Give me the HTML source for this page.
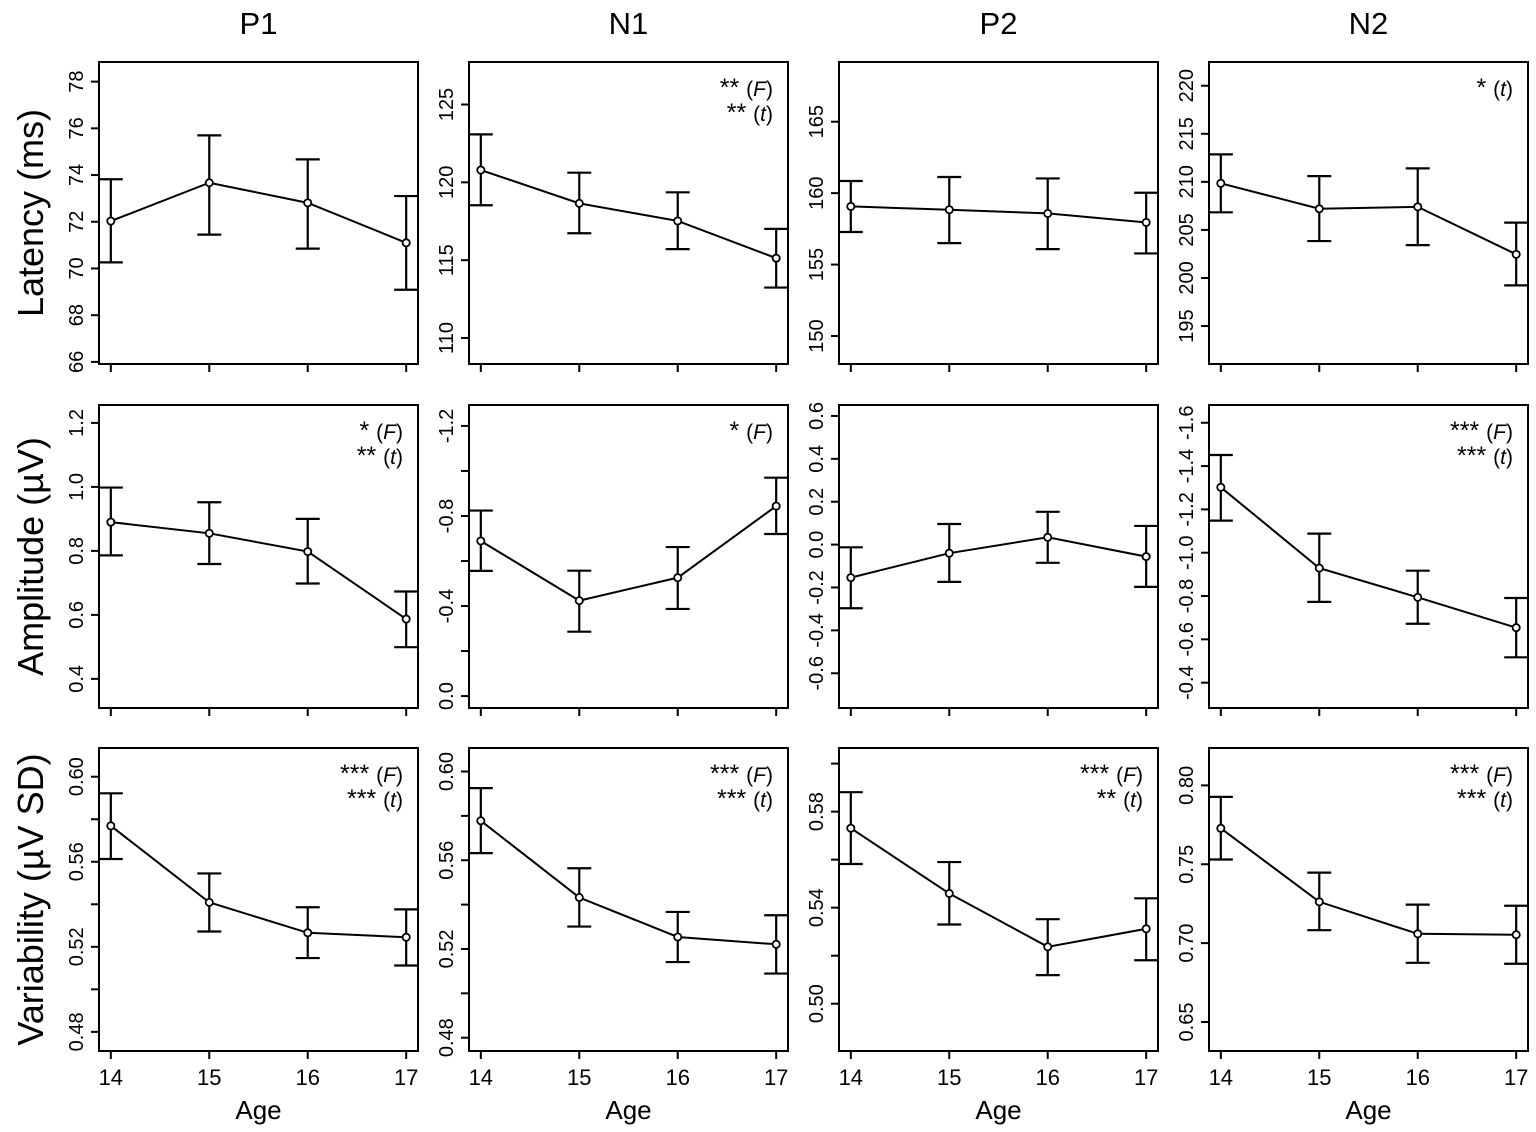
<!DOCTYPE html>
<html><head><meta charset="utf-8">
<style>
html,body{margin:0;padding:0;background:#fff;}
svg{display:block;font-family:"Liberation Sans",Arial,sans-serif;}
</style></head>
<body>
<svg id="chart" width="1536" height="1132" viewBox="0 0 1536 1132" xmlns="http://www.w3.org/2000/svg"></svg>
<script>
// ---- data ----
const ages = [14, 15, 16, 17];
const components = ["P1", "N1", "P2", "N2"];
const measures = ["Latency (ms)", "Amplitude (\u00b5V)", "Variability (\u00b5V SD)"];
const latMean = [[72.03,73.67,72.81,71.10],[120.79,118.65,117.52,115.13],[159.07,158.84,158.58,157.95],[209.85,207.2,207.4,202.46]];
const latLo   = [[70.26,71.45,70.85,69.09],[118.53,116.73,115.71,113.24],[157.28,156.5,156.08,155.78],[206.83,203.84,203.42,199.23]];
const latHi   = [[73.82,75.7,74.67,73.1],[123.08,120.62,119.36,117.01],[160.85,161.13,161.03,160.03],[212.86,210.6,211.4,205.76]];
const ampMean = [[0.890,0.855,0.798,0.587],[-0.689,-0.424,-0.526,-0.844],[-0.154,-0.04,0.034,-0.056],[-1.302,-0.929,-0.794,-0.654]];
const ampLo   = [[0.786,0.759,0.698,0.499],[-0.556,-0.286,-0.387,-0.72],[-0.297,-0.174,-0.085,-0.197],[-1.148,-0.773,-0.672,-0.517]];
const ampHi   = [[0.998,0.952,0.900,0.673],[-0.824,-0.557,-0.662,-0.970],[-0.0126,0.096,0.153,0.087],[-1.451,-1.088,-0.917,-0.791]];
const varMean = [[0.5769,0.5409,0.5266,0.5245],[0.5778,0.5432,0.5254,0.5221],[0.5731,0.5459,0.5237,0.5312],[0.7728,0.7262,0.7059,0.7053]];
const varLo   = [[0.5613,0.5272,0.5147,0.5112],[0.5632,0.5301,0.5141,0.5089],[0.5582,0.533,0.5119,0.5181],[0.753,0.7082,0.6875,0.6869]];
const varHi   = [[0.5922,0.5545,0.5386,0.5376],[0.5925,0.5564,0.5367,0.5352],[0.5881,0.559,0.5352,0.5439],[0.7927,0.7447,0.7244,0.7237]];
const latDomain = [[78.84,65.91],[127.73,108.33],[169.18,148.04],[222.47,191.05]];
const ampDomain = [[1.256,0.309],[-1.293,0.053],[0.651,-0.762],[-1.682,-0.283]];
const varDomain = [[0.6135,0.4710],[0.6106,0.4740],[0.6065,0.4803],[0.8237,0.6316]];
const latTicks = [[66,68,70,72,74,76,78],[110,115,120,125],[150,155,160,165],[195,200,205,210,215,220]];
const latTickLabels = [["66","68","70","72","74","76","78"],["110","115","120","125"],["150","155","160","165"],["195","200","205","210","215","220"]];
const ampTicks = [[0.4,0.6,0.8,1.0,1.2],[0,-0.2,-0.4,-0.6,-0.8,-1.0,-1.2],[-0.6,-0.4,-0.2,0,0.2,0.4,0.6],[-0.4,-0.6,-0.8,-1.0,-1.2,-1.4,-1.6]];
const ampTickLabels = [["0.4","0.6","0.8","1.0","1.2"],["0.0","","-0.4","","-0.8","","-1.2"],["-0.6","-0.4","-0.2","0.0","0.2","0.4","0.6"],["-0.4","-0.6","-0.8","-1.0","-1.2","-1.4","-1.6"]];
const varTicks = [[0.48,0.50,0.52,0.54,0.56,0.58,0.60],[0.48,0.50,0.52,0.54,0.56,0.58,0.60],[0.50,0.52,0.54,0.56,0.58,0.60],[0.65,0.70,0.75,0.80]];
const varTickLabels = [["0.48","","0.52","","0.56","","0.60"],["0.48","","0.52","","0.56","","0.60"],["0.50","","0.54","","0.58",""],["0.65","0.70","0.75","0.80"]];
const latSig = [[],[["**","F"],["**","t"]],[],[["*","t"]]];
const ampSig = [[["*","F"],["**","t"]],[["*","F"]],[],[["***","F"],["***","t"]]];
const varSig = [[["***","F"],["***","t"]],[["***","F"],["***","t"]],[["***","F"],["**","t"]],[["***","F"],["***","t"]]];

const means=[latMean,ampMean,varMean], los=[latLo,ampLo,varLo], his=[latHi,ampHi,varHi];
const domains=[latDomain,ampDomain,varDomain], ticksAll=[latTicks,ampTicks,varTicks], tickLabs=[latTickLabels,ampTickLabels,varTickLabels];
const sigs=[latSig,ampSig,varSig];

const colLeft=[99,469,839,1209], panelW=319;
const rowTop=[62,405,748], panelH=[302,303,303];
const xDom=[13.88,17.12];
const NS="http://www.w3.org/2000/svg";
const svg=document.getElementById('chart');
function mk(tag,attrs,parent){const e=document.createElementNS(NS,tag);for(const k in attrs)e.setAttribute(k,attrs[k]);(parent||svg).appendChild(e);return e;}
function xs(c,a){return colLeft[c]+(a-xDom[0])/(xDom[1]-xDom[0])*panelW;}
function ys(r,c,v){const d=domains[r][c];return rowTop[r]+(v-d[0])/(d[1]-d[0])*panelH[r];}

components.forEach((nm,c)=>{
  const t=mk('text',{x:colLeft[c]+panelW/2,y:34,'text-anchor':'middle','font-size':31});
  t.textContent=nm;
  
  
});
measures.forEach((m,r)=>{
  const cy=rowTop[r]+panelH[r]/2;
  const t=mk('text',{x:0,y:0,'text-anchor':'middle','font-size':36,transform:'translate(43,'+cy+') rotate(-90)'});
  t.textContent=m;
  
  
});

for(let r=0;r<3;r++){for(let c=0;c<4;c++){
  const g=mk('g',{});
  
  
  const L=colLeft[c],T=rowTop[r],H=panelH[r];
  const box=mk('rect',{x:L,y:T,width:panelW,height:H,fill:'none',stroke:'#000','stroke-width':2},g);
  
  
  ticksAll[r][c].forEach((v,i)=>{
    const y=ys(r,c,v);
    const tk=mk('line',{x1:L-8,x2:L,y1:y,y2:y,stroke:'#000','stroke-width':2},g);
    
    
    const lab=tickLabs[r][c][i];
    if(lab){
      const t=mk('text',{x:0,y:0,'text-anchor':'middle','font-size':20,transform:'translate('+(L-16)+','+y+') rotate(-90)'},g);
      t.textContent=lab;
      
      
    }
  });
  ages.forEach(a=>{
    const x=xs(c,a);
    const tk=mk('line',{x1:x,x2:x,y1:T+H,y2:T+H+8,stroke:'#000','stroke-width':2},g);
    
    
    if(r===2){
      const t=mk('text',{x:x,y:T+H+34,'text-anchor':'middle','font-size':22},g);
      t.textContent=String(a);
      
      
    }
  });
  if(r===2){
    const t=mk('text',{x:L+panelW/2,y:1119,'text-anchor':'middle','font-size':26},g);
    t.textContent='Age';
    
    
  }
  const cid='clip'+r+c;
  const cp=mk('clipPath',{id:cid},g);
  mk('rect',{x:L,y:T-40,width:panelW,height:H+80},cp);
  const dg=mk('g',{'clip-path':'url(#'+cid+')'},g);
  ages.forEach((a,i)=>{
    const x=xs(c,a),y1=ys(r,c,los[r][c][i]),y2=ys(r,c,his[r][c][i]);
    const eb=mk('path',{d:'M'+x+' '+y1+'V'+y2+'M'+(x-12)+' '+y1+'H'+(x+12)+'M'+(x-12)+' '+y2+'H'+(x+12),stroke:'#000','stroke-width':2.2,fill:'none'},dg);
    
    
  });
  const pts=ages.map((a,i)=>xs(c,a)+','+ys(r,c,means[r][c][i])).join(' ');
  const pl=mk('polyline',{points:pts,fill:'none',stroke:'#000','stroke-width':2},dg);
  
  
  ages.forEach((a,i)=>{
    const pt=mk('circle',{cx:xs(c,a),cy:ys(r,c,means[r][c][i]),r:3.6,fill:'#fff',stroke:'#000','stroke-width':1.8},dg);
    
    
  });
  sigs[r][c].forEach((s,k)=>{
    const t=mk('text',{x:L+panelW-15,y:T+34+k*25,'text-anchor':'end','font-size':21},g);
    const a=mk('tspan',{'font-size':25},t); a.textContent=s[0]+' ';
    const b=mk('tspan',{},t); b.textContent='(';
    const i2=mk('tspan',{'font-style':'italic'},t); i2.textContent=s[1];
    const d=mk('tspan',{},t); d.textContent=')';
    
    
  });
}}
</script>
</body></html>
